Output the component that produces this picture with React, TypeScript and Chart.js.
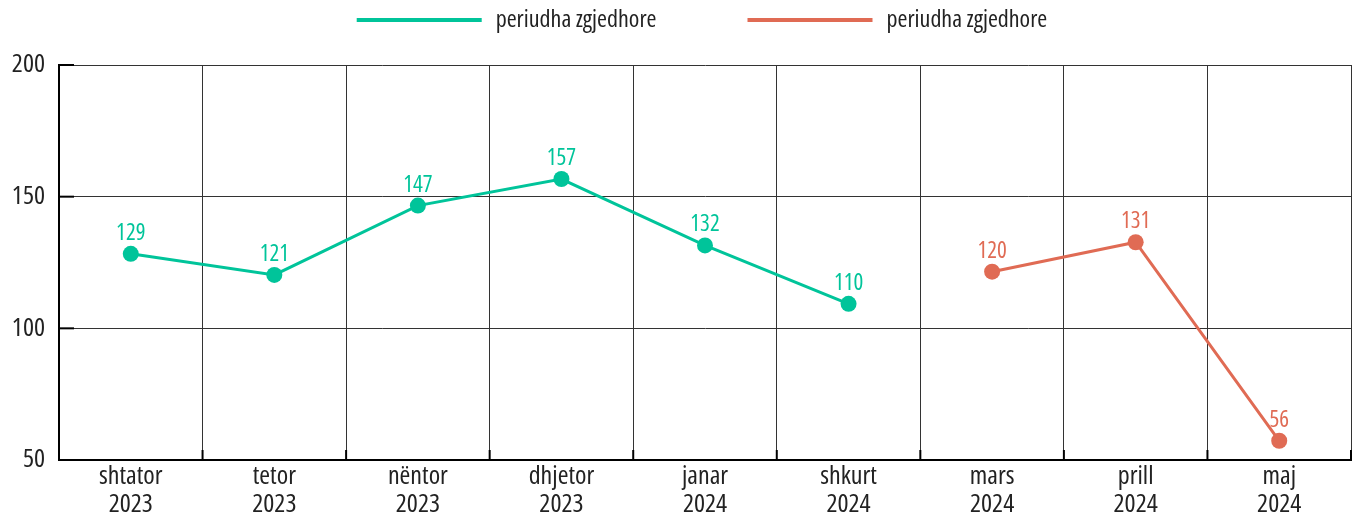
import { useEffect, useRef } from 'react';
import { Chart, registerables } from 'chart.js';

Chart.register(...registerables);

const months = ['shtator', 'tetor', 'nëntor', 'dhjetor', 'janar', 'shkurt', 'mars', 'prill', 'maj'];
const years = ['2023', '2023', '2023', '2023', '2024', '2024', '2024', '2024', '2024'];
const seriesA: (number | null)[] = [128.3, 120.3, 146.6, 156.7, 131.5, 109.3, null, null, null];
const seriesB: (number | null)[] = [null, null, null, null, null, null, 121.5, 132.7, 57.3];
const labelsA = ['129', '121', '147', '157', '132', '110', '', '', ''];
const labelsB = ['', '', '', '', '', '', '120', '131', '56'];
const legendLabels = ['periudha zgjedhore', 'periudha zgjedhore'];
const yTicks = [50, 100, 150, 200];

const GREEN = '#00C49A';
const ORANGE = '#E06B54';
const FAMILY = "'Open Sans', 'Roboto Condensed', sans-serif";
const STRETCH = 'condensed';
const TEXT = '#222222';

const customPlugin = {
  id: 'custom',
  afterDatasetsDraw(chart: any) {
    const ctx = chart.ctx;
    const area = chart.chartArea;
    const xs = chart.scales.x;
    const ys = chart.scales.y;
    ctx.save();
    // inner tick marks
    ctx.strokeStyle = '#000';
    ctx.lineWidth = 2;
    yTicks.forEach((v) => {
      const y = ys.getPixelForValue(v);
      ctx.beginPath();
      ctx.moveTo(area.left, y);
      ctx.lineTo(area.left + 15, y);
      ctx.stroke();
    });
    const step = xs.getPixelForTick(1) - xs.getPixelForTick(0);
    for (let i = 0; i <= months.length; i++) {
      const x = i < months.length ? xs.getPixelForTick(i) - step / 2 : area.right;
      ctx.beginPath();
      ctx.moveTo(x, area.bottom);
      ctx.lineTo(x, area.bottom - 10);
      ctx.stroke();
    }
    // data labels
    ctx.font = `${STRETCH} 23px ${FAMILY}`;
    ctx.textAlign = 'center';
    ctx.textBaseline = 'alphabetic';
    const sets = [labelsA, labelsB];
    chart.data.datasets.forEach((ds: any, di: number) => {
      const meta = chart.getDatasetMeta(di);
      ctx.fillStyle = ds.borderColor;
      meta.data.forEach((pt: any, i: number) => {
        const txt = sets[di][i];
        if (!txt || ds.data[i] == null) return;
        ctx.fillText(txt, pt.x, pt.y - 14);
      });
    });
    ctx.restore();
  },
  afterDraw(chart: any) {
    const ctx = chart.ctx;
    ctx.save();
    ctx.font = `${STRETCH} 24px ${FAMILY}`;
    const lineW = 125;
    const gap = 14;
    const spacing = 91;
    const widths = legendLabels.map((t) => lineW + gap + ctx.measureText(t).width);
    const total = widths.reduce((a, b) => a + b, 0) + spacing * (widths.length - 1);
    let x = 702 - total / 2;
    const y = 20;
    chart.data.datasets.forEach((ds: any, i: number) => {
      ctx.strokeStyle = ds.borderColor;
      ctx.lineWidth = 4;
      ctx.beginPath();
      ctx.moveTo(x, y);
      ctx.lineTo(x + lineW, y);
      ctx.stroke();
      ctx.fillStyle = TEXT;
      ctx.textAlign = 'left';
      ctx.textBaseline = 'middle';
      ctx.fillText(legendLabels[i], x + lineW + gap, y);
      x += widths[i] + spacing;
    });
    ctx.restore();
  },
};

export default function App() {
  const ref = useRef<HTMLCanvasElement>(null);
  useEffect(() => {
    document.body.style.margin = '0';
    if (!ref.current) return;
    const chart = new Chart(ref.current, {
      type: 'line',
      data: {
        labels: months.map((m, i) => [m, years[i]]),
        datasets: [
          {
            label: legendLabels[0],
            data: seriesA,
            borderColor: GREEN,
            backgroundColor: GREEN,
            borderWidth: 3,
            pointRadius: 8,
            pointHoverRadius: 8,
            pointBorderWidth: 0,
            spanGaps: false,
          },
          {
            label: legendLabels[1],
            data: seriesB,
            borderColor: ORANGE,
            backgroundColor: ORANGE,
            borderWidth: 3,
            pointRadius: 8,
            pointHoverRadius: 8,
            pointBorderWidth: 0,
            spanGaps: false,
          },
        ],
      },
      options: {
        animation: false,
        responsive: false,
        maintainAspectRatio: false,
        layout: { autoPadding: false, padding: { top: 65, right: 3, left: 0, bottom: 0 } },
        plugins: {
          legend: { display: false },
          tooltip: { enabled: false },
        },
        scales: {
          x: {
            offset: true,
            grid: {
              offset: true,
              drawTicks: false,
              color: '#333',
              lineWidth: 1,
            },
            border: { display: true, color: '#000', width: 2 },
            ticks: {
              padding: 2,
              color: TEXT,
              font: { family: FAMILY, weight: STRETCH as any, size: 26, lineHeight: 1.1 },
              maxRotation: 0,
              autoSkip: false,
            },
            afterFit: (s: any) => {
              s.height = 57;
              s.paddingLeft = 0;
              s.paddingRight = 0;
            },
          },
          y: {
            min: 50,
            max: 200,
            grid: { drawTicks: false, color: '#333', lineWidth: 1 },
            border: { display: true, color: '#000', width: 2 },
            ticks: {
              stepSize: 50,
              padding: 14,
              color: TEXT,
              font: { family: FAMILY, weight: STRETCH as any, size: 26 },
            },
            afterFit: (s: any) => {
              s.width = 59;
              s.paddingTop = 0;
              s.paddingBottom = 0;
            },
          },
        },
      },
      plugins: [customPlugin],
    });
    return () => chart.destroy();
  }, []);
  return <canvas ref={ref} width={1354} height={517} style={{ display: 'block' }} />;
}
